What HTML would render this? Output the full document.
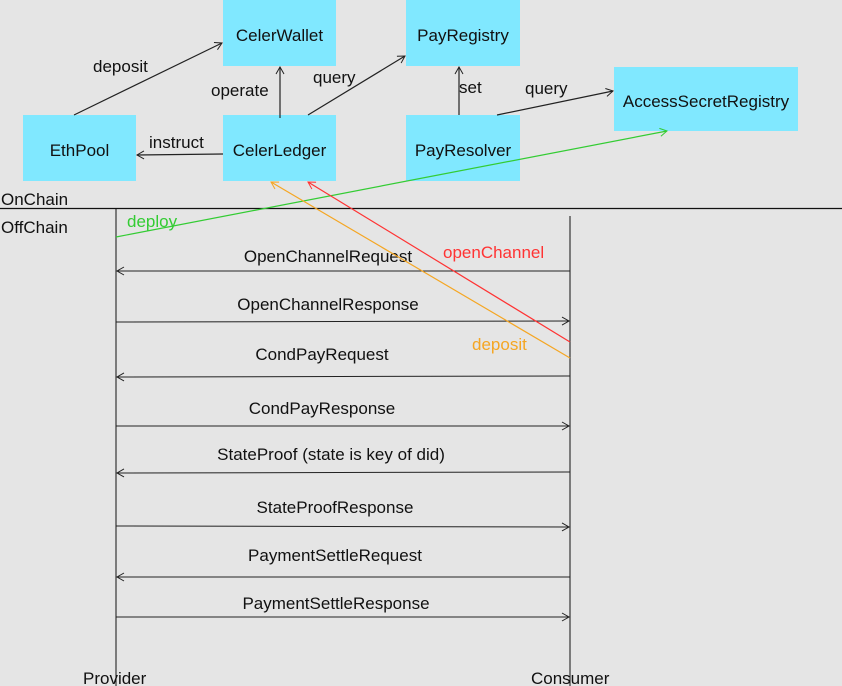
<!DOCTYPE html>
<html><head><meta charset="utf-8"><style>
html,body{margin:0;padding:0;background:#e5e5e5;}
body{width:842px;height:686px;position:relative;overflow:hidden;font-family:"Liberation Sans",sans-serif;}
.b{position:absolute;background:#80e8ff;display:flex;align-items:center;justify-content:center;font-size:17px;color:#111;padding-top:5px;box-sizing:border-box;}
svg{position:absolute;left:0;top:0;}
text{font-family:"Liberation Sans",sans-serif;font-size:17px;fill:#111;}
</style></head><body>
<div class="b" style="left:223px;top:0;width:113px;height:66px;">CelerWallet</div>
<div class="b" style="left:406px;top:0;width:114px;height:66px;">PayRegistry</div>
<div class="b" style="left:23px;top:115px;width:113px;height:66px;">EthPool</div>
<div class="b" style="left:223px;top:115px;width:113px;height:66px;">CelerLedger</div>
<div class="b" style="left:406px;top:115px;width:114px;height:66px;">PayResolver</div>
<div class="b" style="left:614px;top:67px;width:184px;height:64px;">AccessSecretRegistry</div>
<svg width="842" height="686" viewBox="0 0 842 686">
<defs>
<marker id="a" markerWidth="10" markerHeight="10" refX="8" refY="5" orient="auto" markerUnits="userSpaceOnUse"><path d="M1,1 L8,5 L1,9" fill="none" stroke="#222" stroke-width="1"/></marker>
<marker id="g" markerWidth="10" markerHeight="10" refX="8" refY="5" orient="auto" markerUnits="userSpaceOnUse"><path d="M1,1 L8,5 L1,9" fill="none" stroke="#3c3" stroke-width="1"/></marker>
<marker id="o" markerWidth="10" markerHeight="10" refX="8" refY="5" orient="auto" markerUnits="userSpaceOnUse"><path d="M1,1 L8,5 L1,9" fill="none" stroke="#f5a623" stroke-width="1"/></marker>
<marker id="r" markerWidth="10" markerHeight="10" refX="8" refY="5" orient="auto" markerUnits="userSpaceOnUse"><path d="M1,1 L8,5 L1,9" fill="none" stroke="#f33" stroke-width="1"/></marker>
</defs>
<g stroke="#222" stroke-width="1.2" fill="none">
<line x1="74" y1="115" x2="222" y2="43" marker-end="url(#a)"/>
<line x1="280" y1="118" x2="280" y2="67" marker-end="url(#a)"/>
<line x1="308" y1="115" x2="405" y2="56" marker-end="url(#a)"/>
<line x1="459" y1="115" x2="459" y2="67" marker-end="url(#a)"/>
<line x1="497" y1="115" x2="613" y2="91" marker-end="url(#a)"/>
<line x1="223" y1="154" x2="137" y2="155" marker-end="url(#a)"/>
</g>
<text x="93" y="72">deposit</text>
<text x="211" y="96">operate</text>
<text x="313" y="83">query</text>
<text x="459" y="93">set</text>
<text x="525" y="94">query</text>
<text x="149" y="148">instruct</text>
<line x1="0" y1="208.5" x2="842" y2="208.5" stroke="#111" stroke-width="1.2"/>
<text x="1" y="205">OnChain</text>
<text x="1" y="233">OffChain</text>
<line x1="116" y1="208" x2="116" y2="686" stroke="#111" stroke-width="1"/>
<line x1="570" y1="216" x2="570" y2="686" stroke="#111" stroke-width="1"/>
<g stroke="#222" stroke-width="1" fill="none">
<line x1="570" y1="271" x2="117" y2="271" marker-end="url(#a)"/>
<line x1="116" y1="322" x2="569" y2="321" marker-end="url(#a)"/>
<line x1="570" y1="376" x2="117" y2="377" marker-end="url(#a)"/>
<line x1="116" y1="426" x2="569" y2="426" marker-end="url(#a)"/>
<line x1="570" y1="472" x2="117" y2="473" marker-end="url(#a)"/>
<line x1="116" y1="526" x2="569" y2="527" marker-end="url(#a)"/>
<line x1="570" y1="577" x2="117" y2="577" marker-end="url(#a)"/>
<line x1="116" y1="617" x2="569" y2="617" marker-end="url(#a)"/>
</g>
<g text-anchor="middle">
<text x="328" y="262">OpenChannelRequest</text>
<text x="328" y="310">OpenChannelResponse</text>
<text x="322" y="360">CondPayRequest</text>
<text x="322" y="414">CondPayResponse</text>
<text x="331" y="460">StateProof (state is key of did)</text>
<text x="335" y="513">StateProofResponse</text>
<text x="335" y="561">PaymentSettleRequest</text>
<text x="336" y="609">PaymentSettleResponse</text>
</g>
<line x1="116" y1="237" x2="667" y2="131" stroke="#3c3" stroke-width="1.2" marker-end="url(#g)"/>
<line x1="570" y1="358" x2="271" y2="182" stroke="#f5a623" stroke-width="1.2" marker-end="url(#o)"/>
<line x1="570" y1="342" x2="308" y2="182" stroke="#f33" stroke-width="1.2" marker-end="url(#r)"/>
<text x="127" y="227" style="fill:#3c3">deploy</text>
<text x="443" y="258" style="fill:#f33">openChannel</text>
<text x="472" y="350" style="fill:#f5a623">deposit</text>
<text x="83" y="684">Provider</text>
<text x="531" y="684">Consumer</text>
</svg>
</body></html>
